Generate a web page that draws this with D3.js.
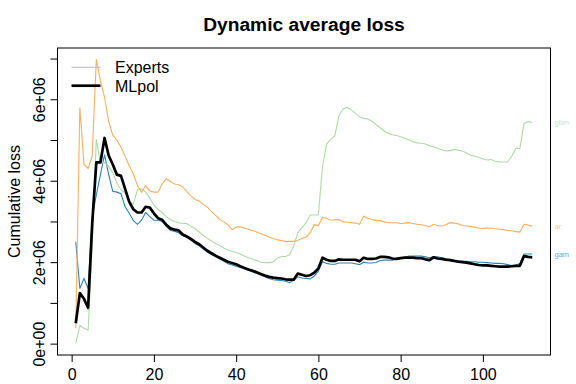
<!DOCTYPE html>
<html lang="en">
<head>
    <meta charset="UTF-8">
    <title>Dynamic average loss</title>
    <style>
        body { margin: 0; background: #fff; }
        text { font-family: "Liberation Sans", Arial, sans-serif; }
    </style>
</head>
<body>
    <div class="container"></div>
    <script src="https://cdn.jsdelivr.net/npm/d3@7/dist/d3.min.js"></script>
    <script>
        // values in millions, one per time step (1..112)
        const gam = [2.50,1.35,1.60,1.35,3.10,3.65,4.15,4.64,4.15,3.74,3.72,3.68,3.36,3.20,3.02,2.93,3.03,3.22,3.12,3.03,
            3.03,3.00,2.88,2.78,2.76,2.72,2.65,2.62,2.54,2.46,2.40,2.32,2.25,2.19,2.13,2.08,2.02,1.96,1.93,1.90,
            1.87,1.84,1.80,1.76,1.72,1.68,1.64,1.60,1.57,1.56,1.55,1.53,1.50,1.56,1.64,1.61,1.60,1.59,1.66,1.78,
            2.01,1.97,1.95,1.95,1.98,1.98,1.98,1.98,1.96,1.94,2.00,1.98,1.98,1.99,2.04,2.05,2.05,2.05,2.07,2.10,
            2.12,2.15,2.15,2.15,2.15,2.13,2.11,2.14,2.13,2.11,2.09,2.07,2.05,2.04,2.03,2.02,2.01,2.01,2.00,2.00,
            1.99,1.98,1.97,1.97,1.96,1.94,1.92,1.93,1.97,2.20,2.20,2.20]
        const gbm = [0.00,0.45,0.38,0.33,2.40,5.02,4.43,4.45,4.35,4.20,3.95,3.78,3.70,3.50,3.42,3.78,3.80,3.72,3.58,3.40,
            3.30,3.22,3.12,3.05,3.00,2.97,2.95,2.95,2.88,2.82,2.74,2.66,2.58,2.52,2.46,2.41,2.35,2.30,2.26,2.24,
            2.20,2.15,2.11,2.08,2.04,2.00,1.99,1.99,2.01,2.10,2.14,2.14,2.18,2.40,2.72,2.85,2.97,3.16,3.16,3.16,
            4.35,4.90,5.02,5.10,5.60,5.76,5.80,5.74,5.66,5.57,5.53,5.52,5.46,5.38,5.30,5.22,5.16,5.13,5.11,5.08,
            5.05,5.00,4.96,4.93,4.92,4.90,4.86,4.83,4.80,4.76,4.73,4.74,4.77,4.75,4.73,4.68,4.63,4.60,4.57,4.54,
            4.51,4.52,4.48,4.46,4.46,4.46,4.60,4.79,4.80,5.41,5.45,5.43]
        const ar = [0.38,5.80,4.40,4.30,4.60,6.98,6.45,6.05,5.46,5.12,5.00,4.82,4.60,4.37,4.17,3.88,3.72,3.88,3.75,3.72,
            3.72,3.92,4.05,3.98,3.92,3.90,3.85,3.73,3.63,3.54,3.50,3.42,3.35,3.25,3.15,3.05,2.99,2.92,2.80,2.86,
            2.87,2.84,2.81,2.78,2.74,2.70,2.66,2.62,2.58,2.55,2.53,2.51,2.51,2.51,2.53,2.58,2.62,2.72,2.92,2.90,
            3.10,3.08,3.03,3.04,3.05,2.99,2.98,2.97,2.96,2.93,3.13,3.08,3.05,3.02,3.02,2.99,2.97,2.97,2.97,2.95,
            2.96,2.97,2.95,2.93,2.92,2.90,2.87,2.93,2.90,2.89,2.92,2.97,2.96,2.94,2.90,2.89,2.88,2.86,2.84,2.83,
            2.84,2.84,2.82,2.81,2.80,2.78,2.77,2.75,2.74,2.93,2.91,2.88]
        const mlpol = [0.50,1.24,1.10,0.88,2.95,4.45,4.45,5.05,4.62,4.40,4.15,4.12,3.80,3.48,3.30,3.22,3.22,3.36,3.34,3.20,
            3.08,3.04,2.92,2.83,2.80,2.78,2.68,2.63,2.57,2.50,2.44,2.36,2.28,2.22,2.16,2.11,2.06,2.01,1.98,1.95,
            1.90,1.86,1.82,1.79,1.75,1.71,1.67,1.64,1.62,1.61,1.60,1.58,1.57,1.57,1.72,1.69,1.66,1.68,1.74,1.85,
            2.11,2.06,2.03,2.03,2.07,2.06,2.06,2.06,2.06,2.02,2.11,2.08,2.08,2.09,2.13,2.13,2.12,2.09,2.08,2.10,
            2.11,2.11,2.11,2.10,2.10,2.07,2.05,2.12,2.09,2.08,2.06,2.05,2.03,2.01,2.00,1.99,1.97,1.95,1.93,1.92,
            1.92,1.91,1.90,1.89,1.89,1.89,1.90,1.91,1.91,2.15,2.13,2.12]

        const expertNames = ["gam", "gbm", "ar"]
        const expertColors = ["#2B83BA", "#ABDDA4", "#FDAE61"]
        const xTicks = [0, 20, 40, 60, 80, 100]
        const yTicks = [0, 1, 2, 3, 4, 5, 6, 7]
        const yTickLabels = ["0e+00", "", "2e+06", "", "4e+06", "", "6e+06", ""]
        const legendLabels = ["Experts", "MLpol"]

        const width = 576
        const height = 384
        const box = {left: 57.5, right: 550.5, top: 48, bottom: 355}

        const svg = d3.select('.container').append("svg")
            .attr("width", width)
            .attr("height", height)

        const experts = [gam, gbm, ar]
        const steps = d3.range(1, gam.length + 1)
        const allValues = experts.flat().concat(mlpol)

        // R style 4% padding on both axes
        const xExt = d3.extent(steps)
        const xPad = (xExt[1] - xExt[0]) * 0.04
        const yExt = d3.extent(allValues)
        const yPad = (yExt[1] - yExt[0]) * 0.04

        const x = d3.scaleLinear()
            .domain([xExt[0] - xPad, xExt[1] + xPad])
            .range([box.left, box.right])
        const y = d3.scaleLinear()
            .domain([yExt[0] - yPad, yExt[1] + yPad])
            .range([box.bottom, box.top])

        const line = d3.line()
            .x((d, i) => x(steps[i]))
            .y(d => y(d))

        const plot = svg.append("g").attr("class", "plot")

        plot.selectAll("path.expert")
            .data(experts)
            .join("path")
            .attr("class", "expert")
            .attr("d", line)
            .attr("fill", "none")
            .attr("stroke", (d, i) => expertColors[i])
            .attr("stroke-width", 1.1)

        plot.append("path")
            .attr("d", line(mlpol))
            .attr("fill", "none")
            .attr("stroke", "#000")
            .attr("stroke-width", 2.7)
            .attr("stroke-linejoin", "round")

        // expert names at the right margin
        svg.append("g").selectAll("text")
            .data(experts)
            .join("text")
            .attr("x", box.right + 4)
            .attr("y", d => y(d[d.length - 1]))
            .attr("dy", "0.35em")
            .attr("font-size", 7.5)
            .attr("fill", (d, i) => expertColors[i])
            .attr("opacity", 0.7)
            .text((d, i) => expertNames[i])

        // box
        svg.append("rect")
            .attr("x", box.left)
            .attr("y", box.top)
            .attr("width", box.right - box.left)
            .attr("height", box.bottom - box.top)
            .attr("fill", "none")
            .attr("stroke", "#000")
            .attr("stroke-width", 1)

        const bottomAxis = d3.axisBottom(x)
            .tickValues(xTicks)
            .tickSize(7)
            .tickSizeOuter(0)
        const xAxisGroup = svg.append("g")
            .attr("transform", `translate(0,${box.bottom})`)
            .call(bottomAxis)
        xAxisGroup.select(".domain").remove()
        xAxisGroup.selectAll("text")
            .attr("font-size", 16)
            .attr("font-family", null)
            .attr("fill", "#000")
            .attr("y", 14)

        const leftAxis = d3.axisLeft(y)
            .tickValues(yTicks)
            .tickSize(7)
            .tickFormat((d, i) => yTickLabels[i])
        const yAxisGroup = svg.append("g")
            .attr("transform", `translate(${box.left},0)`)
            .call(leftAxis)
        yAxisGroup.select(".domain").remove()
        yAxisGroup.selectAll("text")
            .attr("font-size", 16)
            .attr("font-family", null)
            .attr("fill", "#000")
            .attr("transform", "rotate(-90)")
            .attr("x", 0)
            .attr("y", -12.5)
            .attr("dy", null)
            .attr("text-anchor", "middle")

        // title and axis label
        svg.append("text")
            .attr("x", (box.left + box.right) / 2)
            .attr("y", 31)
            .attr("text-anchor", "middle")
            .attr("font-size", 19.2)
            .attr("font-weight", "bold")
            .text("Dynamic average loss")

        svg.append("text")
            .attr("transform", `translate(20,${(box.top + box.bottom) / 2}) rotate(-90)`)
            .attr("text-anchor", "middle")
            .attr("font-size", 16)
            .text("Cumulative loss")

        // legend
        const legend = svg.append("g").attr("class", "legend")
        const legendStyles = [{color: "#BEBEBE", w: 1.1}, {color: "#000", w: 2.7}]
        legendLabels.forEach((label, i) => {
            const ly = 67.3 + i * 18.4
            legend.append("line")
                .attr("x1", 71.5).attr("x2", 100.5)
                .attr("y1", ly).attr("y2", ly)
                .attr("stroke", legendStyles[i].color)
                .attr("stroke-width", legendStyles[i].w)
            legend.append("text")
                .attr("x", 115)
                .attr("y", ly + 6)
                .attr("font-size", 16)
                .text(label)
        })
    </script>
</body>
</html>
